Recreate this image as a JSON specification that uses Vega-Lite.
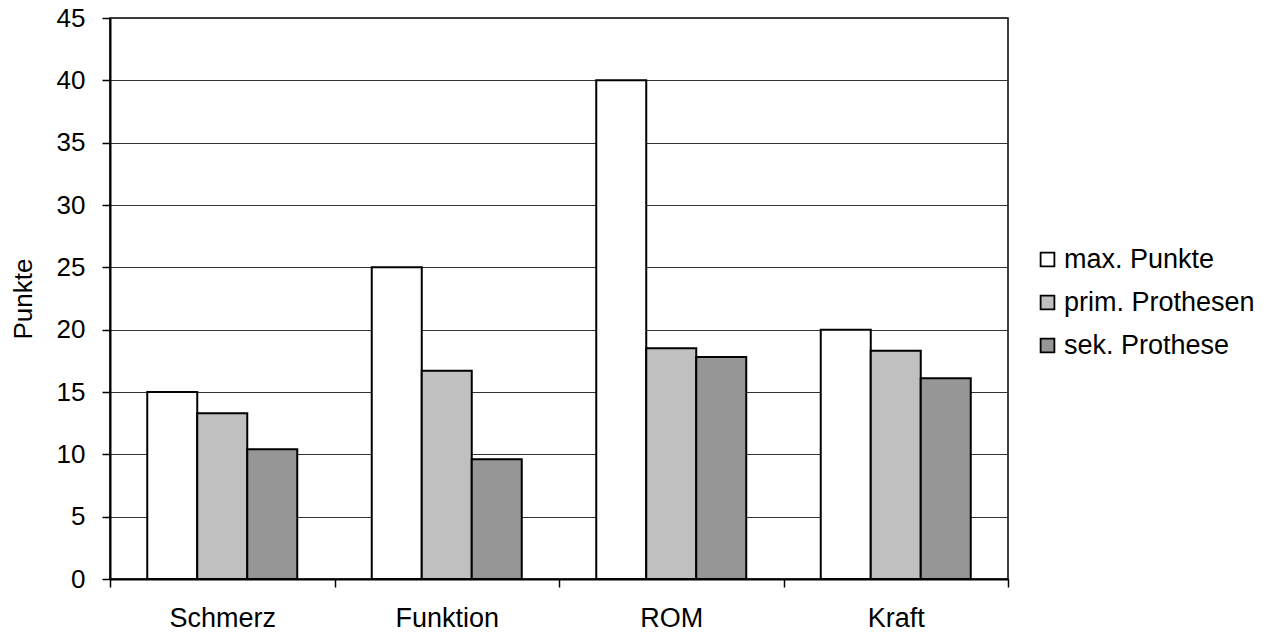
{
  "$schema": "https://vega.github.io/schema/vega-lite/v6.json",
  "width": 898,
  "height": 561,
  "autosize": "none",
  "padding": {"left": 110, "top": 18, "right": 261, "bottom": 58},
  "background": "white",
  "config": {
    "font": "Liberation Sans",
    "view": {"stroke": "black", "strokeWidth": 1.5},
    "axis": {"labelFont": "Liberation Sans", "titleFont": "Liberation Sans", "labelColor": "black", "titleColor": "black", "domainColor": "black", "tickColor": "black", "labelFontSize": 26, "titleFontSize": 26, "titleFontWeight": "normal"}
  },
  "data": {
    "values": [
      {"kategorie": "Schmerz", "serie": "max. Punkte", "wert": 15},
      {"kategorie": "Schmerz", "serie": "prim. Prothesen", "wert": 13.3},
      {"kategorie": "Schmerz", "serie": "sek. Prothese", "wert": 10.4},
      {"kategorie": "Funktion", "serie": "max. Punkte", "wert": 25},
      {"kategorie": "Funktion", "serie": "prim. Prothesen", "wert": 16.7},
      {"kategorie": "Funktion", "serie": "sek. Prothese", "wert": 9.6},
      {"kategorie": "ROM", "serie": "max. Punkte", "wert": 40},
      {"kategorie": "ROM", "serie": "prim. Prothesen", "wert": 18.5},
      {"kategorie": "ROM", "serie": "sek. Prothese", "wert": 17.8},
      {"kategorie": "Kraft", "serie": "max. Punkte", "wert": 20},
      {"kategorie": "Kraft", "serie": "prim. Prothesen", "wert": 18.3},
      {"kategorie": "Kraft", "serie": "sek. Prothese", "wert": 16.1}
    ]
  },
  "mark": {"type": "bar", "stroke": "black", "strokeWidth": 2},
  "encoding": {
    "x": {
      "field": "kategorie",
      "type": "nominal",
      "sort": ["Schmerz", "Funktion", "ROM", "Kraft"],
      "scale": {"paddingInner": 0, "paddingOuter": 0},
      "axis": {"title": null, "labelAngle": 0, "labelFontSize": 27, "tickBand": "extent", "tickSize": 8, "tickWidth": 1.5, "domainWidth": 2, "labelPadding": 18, "grid": false}
    },
    "xOffset": {
      "field": "serie",
      "type": "nominal",
      "sort": ["max. Punkte", "prim. Prothesen", "sek. Prothese"],
      "scale": {"paddingInner": 0, "paddingOuter": 0.745}
    },
    "y": {
      "field": "wert",
      "type": "quantitative",
      "scale": {"domain": [0, 45], "nice": false},
      "axis": {"title": "Punkte", "values": [0, 5, 10, 15, 20, 25, 30, 35, 40, 45], "tickSize": 8, "tickWidth": 1.5, "domainWidth": 2, "labelPadding": 17, "titlePadding": 20, "grid": true, "gridColor": "#333", "gridWidth": 1.2, "gridOpacity": 1}
    },
    "fill": {
      "field": "serie",
      "type": "nominal",
      "sort": ["max. Punkte", "prim. Prothesen", "sek. Prothese"],
      "scale": {"domain": ["max. Punkte", "prim. Prothesen", "sek. Prothese"], "range": ["#ffffff", "#c0c0c0", "#969696"]},
      "legend": {
        "title": null,
        "orient": "none",
        "legendX": 924,
        "legendY": 228,
        "symbolType": "square",
        "symbolSize": 190,
        "symbolStrokeColor": "black",
        "symbolStrokeWidth": 1.8,
        "symbolOpacity": 1,
        "labelFontSize": 27,
        "labelFont": "Liberation Sans",
        "labelColor": "black",
        "labelOffset": 3,
        "labelLimit": 300,
        "rowPadding": 15
      }
    }
  }
}
